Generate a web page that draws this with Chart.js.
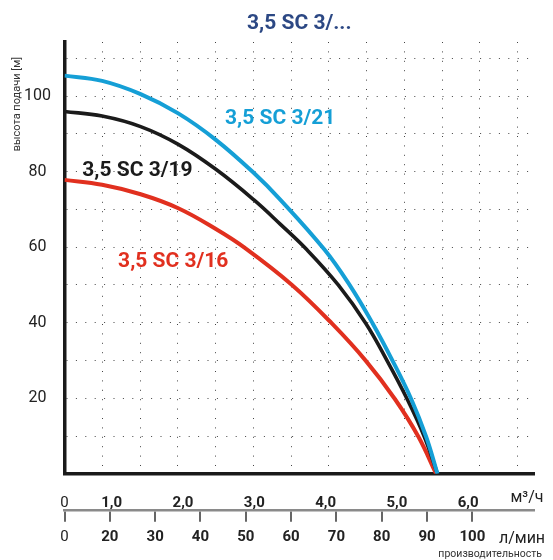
<!DOCTYPE html>
<html><head><meta charset="utf-8">
<script src="https://cdn.jsdelivr.net/npm/chart.js@4"></script>
<style>html,body{margin:0;padding:0;background:#fff}</style>
</head><body>
<canvas id="c" width="553" height="560"></canvas>
<script>
// ---- data (flow in l/min, head in m) ----
const chartTitle = '3,5 SC 3/...';
const seriesNames = ['3,5 SC 3/21', '3,5 SC 3/19', '3,5 SC 3/16'];
const flow21 = [10, 18.3, 26.8, 35.1, 43.4, 51.8, 57.6, 67.4, 72.9, 78.0, 82.4, 86.5, 89.8, 92.3];
const head21 = [105.4, 104.0, 100.5, 95.4, 88.4, 79.6, 72.6, 59.3, 50.0, 39.8, 29.9, 19.8, 9.8, 0];
const flow19 = [10, 18.3, 26.8, 35.1, 43.4, 51.8, 57.6, 63.5, 70.4, 76.5, 81.2, 85.6, 89.4, 92.3];
const head19 = [95.9, 94.7, 91.9, 87.2, 80.6, 72.5, 66.1, 59.3, 50.0, 39.8, 29.9, 19.8, 9.8, 0];
const flow16 = [10, 18.3, 26.8, 35.1, 43.4, 49.8, 60.2, 69.0, 76.5, 82.9, 88.1, 92.0];
const head16 = [77.8, 76.5, 74.0, 70.3, 64.8, 59.8, 50.0, 39.8, 29.9, 19.8, 9.8, 0];
const tickFlowM3h = [1, 2, 3, 4, 5, 6];
const tickFlowLmin = [20, 30, 40, 50, 60, 70, 80, 90, 100];
const tickHead = [20, 40, 60, 80, 100];
const unitM3h = 'м³/ч';
const unitLmin = 'л/мин';
const axisTitleX = 'производительность';
const axisTitleY = 'высота подачи [м]';

// ---- styling / scale settings ----
const FLOW_MIN = 10, FLOW_MAX = 113.6;     // l/min scale at plot edges
const M3H_MIN = 0.338, M3H_MAX = 6.923;    // m3/h ribbon scale at plot edges
const GRID_STEP = 25 / 3;                   // 0.5 m3/h
const colors = ['#159fd6', '#1b1b1b', '#e1301f'];
const labelAnchors = [[57.6, 94.5], [26.1, 80.7], [34.0, 56.7]];

function pts(xs, ys) { return xs.map((v, i) => ({x: v, y: ys[i]})); }

const textPlugin = {
  id: 'texts',
  afterDraw(chart) {
    const {ctx, chartArea: ca} = chart;
    const x = chart.scales.x, y = chart.scales.y;
    ctx.save();
    ctx.textBaseline = 'alphabetic';
    // title
    ctx.font = 'bold 21px Roboto';
    ctx.fillStyle = '#2c4884';
    ctx.textAlign = 'center';
    ctx.fillText(chartTitle, (ca.left + ca.right) / 2, 28.5);
    // series labels
    ctx.font = 'bold 21px Roboto';
    seriesNames.forEach((n, i) => {
      ctx.fillStyle = colors[i];
      ctx.fillText(n, x.getPixelForValue(labelAnchors[i][0]), y.getPixelForValue(labelAnchors[i][1]) + 7.5);
    });
    // y axis title
    ctx.save();
    ctx.translate(20, 104);
    ctx.rotate(-Math.PI / 2);
    ctx.font = '11px Roboto';
    ctx.fillStyle = '#333';
    ctx.fillText(axisTitleY, 0, 0);
    ctx.restore();
    // units
    ctx.fillStyle = '#222';
    ctx.font = '16px Roboto';
    ctx.textAlign = 'center';
    ctx.fillText(unitM3h, 527, 502);
    ctx.fillText(unitLmin, 522, 543);
    ctx.font = '10.5px Roboto';
    ctx.textAlign = 'right';
    ctx.fillStyle = '#333';
    ctx.fillText(axisTitleX, 542, 557);
    ctx.restore();
  }
};

new Chart(document.getElementById('c'), {
  type: 'line',
  data: {
    datasets: [
      {label: seriesNames[0], data: pts(flow21, head21), borderColor: colors[0], borderWidth: 4},
      {label: seriesNames[1], data: pts(flow19, head19), borderColor: colors[1], borderWidth: 3.6},
      {label: seriesNames[2], data: pts(flow16, head16), borderColor: colors[2], borderWidth: 4}
    ]
  },
  options: {
    responsive: false,
    animation: false,
    elements: {point: {radius: 0}, line: {tension: 0.4, cubicInterpolationMode: 'default', borderCapStyle: 'butt'}},
    layout: {padding: {left: 0, right: 19, top: 42, bottom: 12.7}},
    plugins: {legend: {display: false}, tooltip: {enabled: false}, title: {display: false}},
    scales: {
      x: {
        type: 'linear', position: 'bottom', weight: 0, min: FLOW_MIN, max: FLOW_MAX,
        afterBuildTicks(s) {
          const t = [];
          for (let k = 1; FLOW_MIN + k * GRID_STEP < FLOW_MAX; k++) t.push({value: FLOW_MIN + k * GRID_STEP});
          s.ticks = t;
        },
        afterFit(s) { s.height = 0; },
        ticks: {display: false},
        grid: {color: '#444', lineWidth: 1, drawTicks: false},
        border: {display: true, color: '#1a1a1a', width: 3.5, dash: [1, 8.4]}
      },
      xq: {
        type: 'linear', position: 'bottom', weight: 1, min: M3H_MIN, max: M3H_MAX,
        afterBuildTicks(s) { s.ticks = [{value: M3H_MIN}].concat(tickFlowM3h.map(v => ({value: v}))); },
        afterFit(s) { s.height = 36.9; },
        ticks: {
          autoSkip: false, maxRotation: 0, padding: 12.7, color: '#222',
          font: c => ({family: 'Roboto', size: 15, weight: (c.tick && c.tick.value === M3H_MIN) ? 'normal' : 'bold'}),
          callback: v => v === M3H_MIN ? '0' : v.toFixed(1).replace('.', ',')
        },
        grid: {display: false},
        border: {display: false}
      },
      xl: {
        type: 'linear', position: 'bottom', weight: 2, min: FLOW_MIN, max: FLOW_MAX,
        afterBuildTicks(s) { s.ticks = [{value: FLOW_MIN}].concat(tickFlowLmin.map(v => ({value: v}))); },
        afterFit(s) { s.height = 36.6; },
        ticks: {
          autoSkip: false, maxRotation: 0, padding: 7, color: '#222',
          font: c => ({family: 'Roboto', size: 15, weight: (c.tick && c.tick.value === FLOW_MIN) ? 'normal' : 'bold'}),
          callback: v => v === FLOW_MIN ? '0' : String(v)
        },
        grid: {display: true, drawOnChartArea: false, drawTicks: true, tickLength: 11, tickColor: '#666', tickWidth: 2, lineWidth: 2},
        border: {display: true, color: '#8a8a8a', width: 2.5}
      },
      y: {
        type: 'linear', position: 'left', min: 0, max: 114.3,
        afterFit(s) { s.width = 64.5; },
        ticks: {
          stepSize: 10, includeBounds: false, autoSkip: false, crossAlign: 'center', padding: 13.5,
          color: '#222', font: {family: 'Roboto', size: 16},
          callback: v => tickHead.includes(v) ? String(v) : ''
        },
        grid: {color: c => (c.tick && c.tick.value === 0) ? 'rgba(0,0,0,0)' : '#444', lineWidth: 1, drawTicks: false},
        border: {display: true, color: '#1a1a1a', width: 3.5, dash: [1, 8.4]}
      }
    }
  },
  plugins: [textPlugin]
});
</script>
</body></html>
